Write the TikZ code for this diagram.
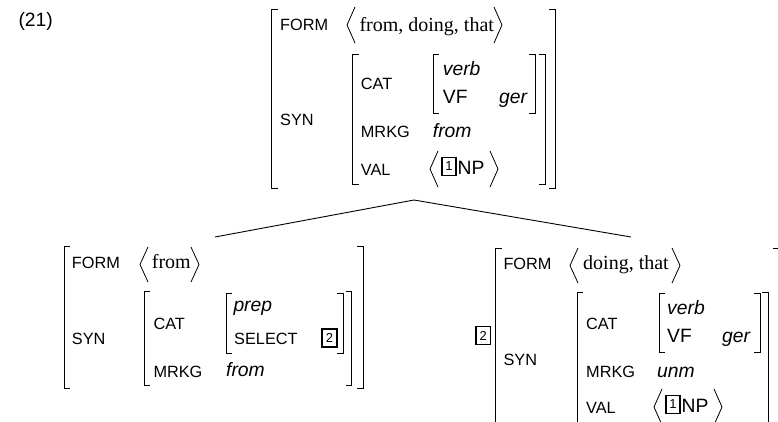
\documentclass[tikz,border=0pt]{standalone}
\usepackage{fontspec}
\newfontfamily\hvf{Liberation Sans}
\newfontfamily\tmf{Liberation Serif}
\tikzset{
 lab/.style={anchor=base west,inner sep=0pt,font=\hvf\fontsize{16.3}{16.3}\selectfont},
 val/.style={anchor=base west,inner sep=0pt,font=\hvf\itshape\fontsize{19.3}{19.3}\selectfont},
 upv/.style={anchor=base west,inner sep=0pt,font=\hvf\fontsize{19.3}{19.3}\selectfont},
 ser/.style={anchor=base west,inner sep=0pt,font=\tmf\fontsize{20}{20}\selectfont},
 brk/.style={line width=0.9pt},
 ang/.style={line width=0.8pt},
 tagbox/.style={draw,line width=1.6pt,inner sep=0pt,minimum width=14.5pt,minimum height=18pt,font=\hvf\fontsize{13}{13}\selectfont},
 treeedge/.style={line width=0.9pt}
}
\newcommand\LBr[3]{\draw[brk] ({#1+6},#2) -- (#1,#2) -- (#1,#3) -- ({#1+6},#3);}
\newcommand\RBr[3]{\draw[brk] ({#1-6},#2) -- (#1,#2) -- (#1,#3) -- ({#1-6},#3);}
\newcommand\LAng[3]{\draw[ang] ({#1+8},#2) -- (#1,{(#2+#3)/2}) -- ({#1+8},#3);}
\newcommand\RAng[3]{\draw[ang] (#1,#2) -- ({#1+8},{(#2+#3)/2}) -- (#1,#3);}
\begin{document}
\begin{tikzpicture}[x=1pt,y=-1pt]
\clip (0,0) rectangle (778,421);
\fill[white] (0,0) rectangle (778,421);
% example number
\node[upv] (num) at (18.3,26.5) {(21)};
% ---------- top AVM ----------
\LBr{271.7}{9.3}{188.3}
\RBr{555}{9.3}{188.3}
\node[lab] (tform) at (280,30.7) {FORM};
\LAng{347}{7}{43}
\node[ser] (tformv) at (359.3,31) {from, doing, that};
\RAng{494}{7}{43}
\node[lab] (tsyn) at (280,125) {SYN};
\LBr{352.7}{54}{184}
\RBr{545}{54}{184}
\node[lab] (tcat) at (360.7,89.3) {CAT};
\LBr{433.3}{54}{113}
\RBr{535}{54}{113}
\node[val] (tverb) at (442.7,75) {verb};
\node[upv] (tvf) at (442.7,103.3) {VF};
\node[val] (tger) at (499,103.3) {ger};
\node[lab] (tmrkg) at (360.7,137.7) {MRKG};
\node[val] (tfrom) at (432.7,137) {from};
\node[lab] (tval) at (360.7,175) {VAL};
\LAng{430}{151}{187}
\node[tagbox] (ttag) at (449,166.5) {1};
\node[upv] (tnp) at (457.5,174.5) {NP};
\RAng{490}{151}{187}
% ---------- tree ----------
\coordinate (apex) at (414,200);
\coordinate (lefttop) at (215,237);
\coordinate (righttop) at (631,237);
\draw[treeedge] (lefttop) -- (apex) -- (righttop);
% ---------- left AVM ----------
\LBr{64}{246.7}{388.3}
\RBr{363.3}{246.7}{388.3}
\node[lab] (lform) at (71.7,268.3) {FORM};
\LAng{140}{247}{282}
\node[ser] (lformv) at (151.7,268.3) {from};
\RAng{191}{247}{282}
\node[lab] (lsyn) at (71.7,344) {SYN};
\LBr{144.3}{291.7}{385}
\RBr{351.7}{291.7}{385}
\node[lab] (lcat) at (153.3,329.3) {CAT};
\LBr{226}{293.3}{353.3}
\RBr{343.3}{293.3}{353.3}
\node[val] (lprep) at (233.3,311.7) {prep};
\node[lab] (lsel) at (234,344) {SELECT};
\node[tagbox] (ltag) at (329.5,338) {2};
\node[lab] (lmrkg) at (153.3,377.3) {MRKG};
\node[val] (lfrom) at (226,376.7) {from};
% ---------- right AVM ----------
\node[tagbox] (rtag) at (483.3,335.5) {2};
\LBr{495.5}{248}{440}
\RBr{778.6}{248.5}{440}
\node[lab] (rform) at (503.3,269.5) {FORM};
\LAng{570}{248}{283}
\node[ser] (rformv) at (583,269.5) {doing, that};
\RAng{672}{248}{283}
\node[lab] (rsyn) at (503.3,365) {SYN};
\LBr{577}{292}{440}
\RBr{768}{292}{440}
\node[lab] (rcat) at (586,329) {CAT};
\LBr{659}{293}{352}
\RBr{760}{293}{352}
\node[val] (rverb) at (667,314) {verb};
\node[upv] (rvf) at (667,342) {VF};
\node[val] (rger) at (722,342) {ger};
\node[lab] (rmrkg) at (586,377) {MRKG};
\node[val] (runm) at (657,377) {unm};
\node[lab] (rval) at (586,413) {VAL};
\LAng{654}{389}{425}
\node[tagbox] (rtag1) at (673,404.5) {1};
\node[upv] (rnp) at (681.5,412.5) {NP};
\RAng{714}{389}{425}
\end{tikzpicture}
\end{document}
